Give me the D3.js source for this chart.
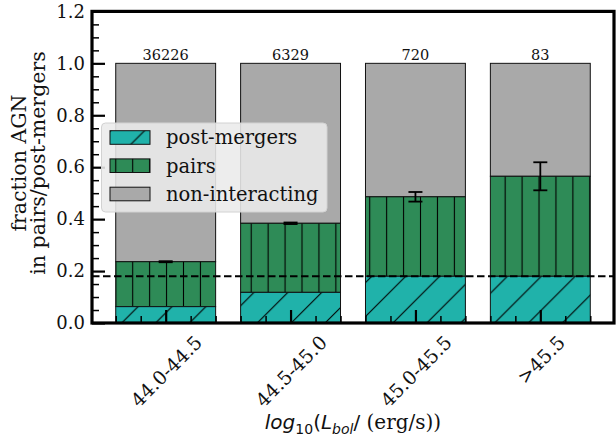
<!DOCTYPE html>
<html>
<head>
<meta charset="utf-8">
<script src="https://cdn.jsdelivr.net/npm/d3@7"></script>
<style>
  html, body { margin: 0; padding: 0; background: #ffffff; }
  svg { display: block; }
</style>
</head>
<body>
<svg id="chart" width="616" height="439"></svg>
<script>
// Luminosity bins and number of AGN in each bin
const categories = ["44.0-44.5", "44.5-45.0", "45.0-45.5", ">45.5"];
const counts = [36226, 6329, 720, 83];

// Stacked fractions (post-mergers at the bottom, pairs on top of them)
const postMergers = [0.063, 0.118, 0.180, 0.180];
const pairs = [0.173, 0.266, 0.306, 0.385];
const totalErr = [0.002, 0.003, 0.0185, 0.054];

// Reference fraction (dashed line)
const refLevel = 0.18;

const yTicks = [0.0, 0.2, 0.4, 0.6, 0.8, 1.0, 1.2];

const serif = "'DejaVu Serif', serif";
const sans = "'DejaVu Sans', sans-serif";

const colPost = "#20b2aa";
const colPairs = "#2e8b57";
const colNon = "#a9a9a9";

const svg = d3.select("#chart");

const axL = 92, axR = 614, axT = 11.4, axB = 323;
const x = d3.scaleLinear().domain([-0.59, 3.59]).range([axL, axR]);
const y = d3.scaleLinear().domain([0, 1.2]).range([axB, axT]);
const barW = 0.8;

const rows = categories.map((c, i) => ({
  cat: c, i,
  post: postMergers[i],
  pairs: pairs[i],
  total: postMergers[i] + pairs[i],
  err: totalErr[i],
  n: counts[i]
}));

// Hatch patterns, tiled in page coordinates
const defs = svg.append("defs");
const vStep = 16.93;
const vPat = defs.append("pattern")
  .attr("id", "hatchV")
  .attr("patternUnits", "userSpaceOnUse")
  .attr("x", 132.7 - vStep / 2).attr("y", 0)
  .attr("width", vStep).attr("height", 20);
vPat.append("line")
  .attr("x1", vStep / 2).attr("x2", vStep / 2)
  .attr("y1", -1).attr("y2", 21)
  .attr("stroke", "#000").attr("stroke-width", 1.1);

const dStep = 33.9;
const dPat = defs.append("pattern")
  .attr("id", "hatchD")
  .attr("patternUnits", "userSpaceOnUse")
  .attr("x", 4).attr("y", 0)
  .attr("width", dStep).attr("height", dStep);
dPat.append("path")
  .attr("d", `M-1,${dStep + 1}L${dStep + 1},-1 M-2,2L2,-2 M${dStep - 2},${dStep + 2}L${dStep + 2},${dStep - 2}`)
  .attr("stroke", "#000").attr("stroke-width", 1.1).attr("fill", "none");

const plot = svg.append("g");

function barRect(sel, y0, y1, fill, hatch) {
  sel.append("rect")
    .attr("x", d => x(d.i - barW / 2))
    .attr("width", d => x(d.i + barW / 2) - x(d.i - barW / 2))
    .attr("y", d => y(y1(d)))
    .attr("height", d => y(y0(d)) - y(y1(d)))
    .attr("fill", fill);
  if (hatch) {
    sel.append("rect")
      .attr("x", d => x(d.i - barW / 2))
      .attr("width", d => x(d.i + barW / 2) - x(d.i - barW / 2))
      .attr("y", d => y(y1(d)))
      .attr("height", d => y(y0(d)) - y(y1(d)))
      .attr("fill", `url(#${hatch})`);
  }
  sel.append("rect")
    .attr("x", d => x(d.i - barW / 2))
    .attr("width", d => x(d.i + barW / 2) - x(d.i - barW / 2))
    .attr("y", d => y(y1(d)))
    .attr("height", d => y(y0(d)) - y(y1(d)))
    .attr("fill", "none")
    .attr("stroke", "#111").attr("stroke-width", 1);
}

const bars = plot.selectAll("g.bar").data(rows).join("g").attr("class", "bar");
barRect(bars, d => d.total, d => 1.0, colNon, null);
barRect(bars, d => d.post, d => d.total, colPairs, "hatchV");
barRect(bars, d => 0, d => d.post, colPost, "hatchD");

// Error bars on the pairs+post-mergers fraction
const eb = plot.selectAll("g.err").data(rows).join("g").attr("class", "err")
  .attr("stroke", "#000").attr("stroke-width", 1.8);
eb.append("line")
  .attr("x1", d => x(d.i)).attr("x2", d => x(d.i))
  .attr("y1", d => y(d.total - d.err)).attr("y2", d => y(d.total + d.err));
eb.append("line")
  .attr("x1", d => x(d.i) - 7).attr("x2", d => x(d.i) + 7)
  .attr("y1", d => y(d.total - d.err)).attr("y2", d => y(d.total - d.err));
eb.append("line")
  .attr("x1", d => x(d.i) - 7).attr("x2", d => x(d.i) + 7)
  .attr("y1", d => y(d.total + d.err)).attr("y2", d => y(d.total + d.err));

// Reference level
plot.append("line")
  .attr("x1", axL).attr("x2", axR)
  .attr("y1", y(refLevel)).attr("y2", y(refLevel))
  .attr("stroke", "#000").attr("stroke-width", 2)
  .attr("stroke-dasharray", "7.5,3.5");

// Sample sizes above the bars
plot.selectAll("text.count").data(rows).join("text")
  .attr("class", "count")
  .attr("x", d => x(d.i)).attr("y", y(1.0) - 3.5)
  .attr("text-anchor", "middle")
  .style("font-family", serif).style("font-size", "14.5px")
  .attr("fill", "#111")
  .text(d => d.n);

// Y axis: inward ticks, major every 0.2 and minor every 0.05
const yAxis = d3.axisLeft(y).tickValues(yTicks).tickSizeInner(-13).tickSizeOuter(0)
  .tickFormat(d3.format(".1f")).tickPadding(7);
const gy = svg.append("g").attr("transform", `translate(${axL},0)`).call(yAxis);
gy.select(".domain").remove();
gy.selectAll(".tick line").attr("stroke", "#000").attr("stroke-width", 2.2);
gy.selectAll(".tick text").style("font-family", serif).style("font-size", "18px").attr("fill", "#111");
const yMinor = d3.range(0, 1.2001, 0.05).filter(v => Math.abs(v / 0.2 - Math.round(v / 0.2)) > 1e-6);
const gyMinor = svg.append("g").attr("transform", `translate(${axL},0)`)
  .call(d3.axisLeft(y).tickValues(yMinor).tickSizeInner(-7).tickSizeOuter(0).tickFormat(""));
gyMinor.select(".domain").remove();
gyMinor.selectAll(".tick line").attr("stroke", "#000").attr("stroke-width", 1.5);

// X axis: inward major ticks at bar centres, minor every 0.2
const xMinor = d3.range(-0.4, 3.41, 0.2).filter(v => Math.abs(v - Math.round(v)) > 1e-6);
const gxMinor = svg.append("g").attr("transform", `translate(0,${axB})`)
  .call(d3.axisBottom(x).tickValues(xMinor).tickSizeInner(-7).tickSizeOuter(0).tickFormat(""));
gxMinor.select(".domain").remove();
gxMinor.selectAll(".tick line").attr("stroke", "#000").attr("stroke-width", 1.5);

const gx = svg.append("g").attr("transform", `translate(0,${axB})`)
  .call(d3.axisBottom(x).tickValues(d3.range(categories.length)).tickSizeInner(-13).tickSizeOuter(0)
    .tickFormat(i => categories[i]));
gx.select(".domain").remove();
gx.selectAll(".tick line").attr("stroke", "#000").attr("stroke-width", 2.2);
const xFont = 19;
gx.selectAll(".tick text")
  .style("font-family", serif).style("font-size", xFont + "px").attr("fill", "#111")
  .attr("text-anchor", "middle").attr("dominant-baseline", "central")
  .attr("dy", null)
  .each(function() {
    const w = this.getComputedTextLength();
    const half = (w + 0.72 * xFont) / (2 * Math.SQRT2);
    const cy = 11 + half;
    d3.select(this).attr("y", cy).attr("x", 0)
      .attr("transform", `rotate(-45,0,${cy})`);
  });

// Frame
svg.append("rect")
  .attr("x", axL).attr("y", axT)
  .attr("width", axR - axL).attr("height", axB - axT)
  .attr("fill", "none").attr("stroke", "#000").attr("stroke-width", 3.2);

// Axis labels
const yl = svg.append("text")
  .attr("transform", "translate(26,163) rotate(-90)")
  .attr("text-anchor", "middle")
  .style("font-family", serif).style("font-size", "20.5px").attr("fill", "#111");
yl.append("tspan").attr("x", 0).attr("y", 0).text("fraction AGN");
yl.append("tspan").attr("x", 0).attr("y", 18.5).text("in pairs/post-mergers");

const xl = svg.append("text")
  .attr("x", (axL + axR) / 2).attr("y", 429)
  .attr("text-anchor", "middle")
  .style("font-size", "20px").attr("fill", "#111");
xl.append("tspan").style("font-family", sans).style("font-style", "italic").text("log");
xl.append("tspan").style("font-family", sans).style("font-size", "14px").attr("dy", 4.5).text("10");
xl.append("tspan").style("font-family", sans).attr("dy", -4.5).text("(");
xl.append("tspan").style("font-family", sans).style("font-style", "italic").text("L");
xl.append("tspan").style("font-family", sans).style("font-style", "italic").style("font-size", "14px").attr("dy", 4.5).text("bol");
xl.append("tspan").style("font-family", sans).attr("dy", -4.5).text("/");
xl.append("tspan").style("font-family", serif).text("\u00a0(erg/s))");

// Legend
const leg = svg.append("g");
leg.append("rect")
  .attr("x", 101.5).attr("y", 123).attr("width", 225.5).attr("height", 89)
  .attr("rx", 4).attr("ry", 4)
  .attr("fill", "#ebebeb").attr("fill-opacity", 0.88)
  .attr("stroke", "#d2d2d2").attr("stroke-width", 1);
const legendItems = [
  { label: "post-mergers", fill: colPost, hatch: "hatchD" },
  { label: "pairs", fill: colPairs, hatch: "hatchV" },
  { label: "non-interacting", fill: colNon, hatch: null }
];
const legRowY = [137.5, 165.7, 194];
legendItems.forEach((it, k) => {
  const cy = legRowY[k];
  leg.append("rect").attr("x", 110).attr("y", cy - 6.8).attr("width", 40).attr("height", 13.6)
    .attr("fill", it.fill);
  if (it.hatch) {
    leg.append("rect").attr("x", 110).attr("y", cy - 6.8).attr("width", 40).attr("height", 13.6)
      .attr("fill", `url(#${it.hatch})`);
  }
  leg.append("rect").attr("x", 110).attr("y", cy - 6.8).attr("width", 40).attr("height", 13.6)
    .attr("fill", "none").attr("stroke", "#111").attr("stroke-width", 1);
  leg.append("text").attr("x", 166).attr("y", cy + 6.8)
    .style("font-family", serif).style("font-size", "19.5px").attr("fill", "#111")
    .text(it.label);
});
</script>
</body>
</html>
